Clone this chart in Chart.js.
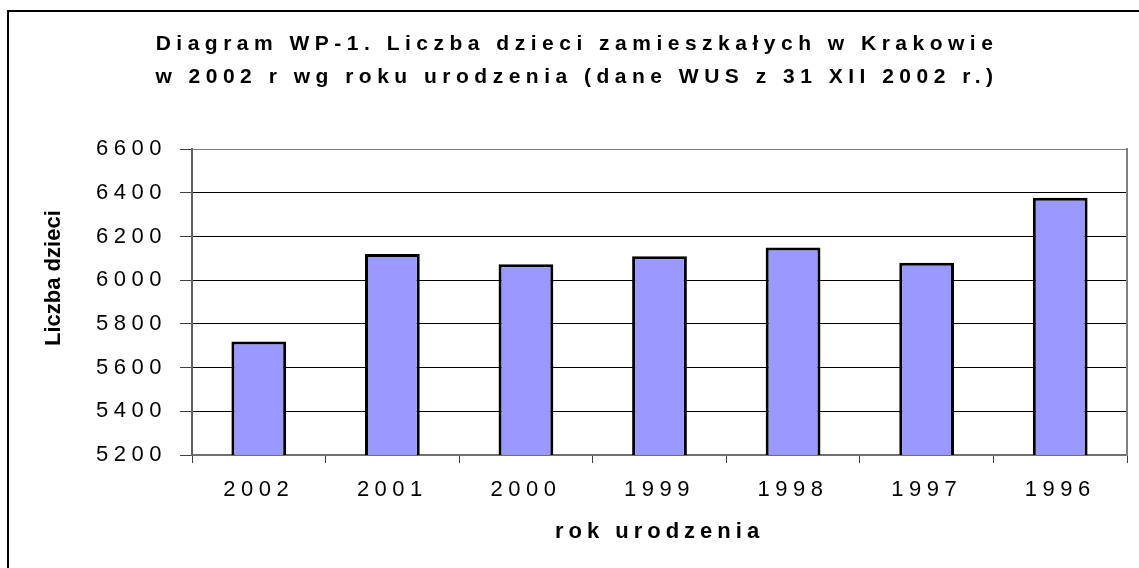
<!DOCTYPE html>
<html>
<head>
<meta charset="utf-8">
<script src="https://cdn.jsdelivr.net/npm/chart.js@4/dist/chart.umd.min.js"></script>
<style>
  body { margin: 0; background: #fff; }
  #wrap { position: relative; width: 1139px; height: 568px; overflow: hidden; }
  #frame { position: absolute; left: 7px; top: 10px; width: 1200px; height: 600px;
           border-left: 2px solid #000; border-top: 2px solid #000; }
  canvas { position: absolute; left: 0; top: 0; }
</style>
</head>
<body>
<div id="wrap">
  <div id="frame"></div>
  <canvas id="myChart" width="1139" height="568"></canvas>
</div>
<script>
// birth years and number of children
const years = ['2002', '2001', '2000', '1999', '1998', '1997', '1996'];
const children = [5720, 6120, 6073, 6110, 6150, 6080, 6378];
const titleLines = [
  'Diagram WP-1. Liczba dzieci zamieszkałych w Krakowie',
  'w 2002 r wg roku urodzenia (dane WUS z 31 XII 2002 r.)'
];
const yTitle = 'Liczba dzieci';
const xTitle = 'rok urodzenia';

Chart.defaults.font.family = '"Liberation Sans", Arial, sans-serif';
Chart.defaults.color = '#000';

// the old excel chart has wide spaced text, canvas letterSpacing gets close
function wrapDraw(obj, name, spacing, dy) {
  if (!obj || obj[name]._wrapped) return;
  const orig = obj[name];
  const fn = function (...args) {
    const ctx = this.ctx;
    ctx.save();
    ctx.letterSpacing = spacing;
    ctx.translate(0, dy);
    orig.apply(this, args);
    ctx.restore();
  };
  fn._wrapped = true;
  obj[name] = fn;
}

const spacingPlugin = {
  id: 'spacing',
  afterLayout(chart) {
    wrapDraw(chart.titleBlock, 'draw', '5.5px', 0);
    wrapDraw(chart.scales.x, 'drawLabels', '5.5px', 0);
    wrapDraw(chart.scales.y, 'drawLabels', '5.5px', 0);
    wrapDraw(chart.scales.x, 'drawTitle', '5px', 0);
    wrapDraw(chart.scales.y, 'drawTitle', '0px', -24);
  }
};

const ctx = document.getElementById('myChart').getContext('2d');
const myChart = new Chart(ctx, {
  type: 'bar',
  data: {
    labels: years,
    datasets: [{
      label: yTitle,
      data: children,
      backgroundColor: '#9999ff',
      borderColor: '#000',
      borderWidth: 3,
      borderSkipped: false,
      barPercentage: 0.41,
      categoryPercentage: 1
    }]
  },
  plugins: [spacingPlugin],
  options: {
    responsive: false,
    animation: false,
    layout: { padding: { left: 27, right: 12, top: 0, bottom: 0 } },
    plugins: {
      legend: { display: false },
      tooltip: { enabled: false },
      title: {
        display: true,
        text: titleLines,
        color: '#000',
        font: { size: 21, weight: 'bold', lineHeight: 1.6 },
        padding: { top: 27, bottom: 55 }
      }
    },
    scales: {
      x: {
        afterFit: (scale) => { scale.height = 113; },
        grid: {
          offset: true,
          drawOnChartArea: false,
          tickLength: 8,
          tickColor: '#404040'
        },
        border: { color: '#707070', width: 2 },
        ticks: { font: { size: 22 }, padding: 14 },
        title: {
          display: true,
          text: xTitle,
          font: { size: 22, weight: 'bold' },
          padding: { top: 0, bottom: 23 }
        }
      },
      y: {
        min: 5200,
        max: 6600,
        afterFit: (scale) => { scale.width = 165; },
        grid: {
          color: (c) => c.tick && c.tick.value === 6600 ? '#808080' : '#000',
          lineWidth: 1,
          tickLength: 12,
          tickColor: '#404040'
        },
        border: { color: '#606060', width: 2 },
        ticks: {
          stepSize: 200,
          font: { size: 22 },
          padding: 13,
          callback: (v) => String(v)
        },
        title: {
          display: true,
          text: yTitle,
          font: { size: 22, weight: 'bold' },
          padding: { top: 14, bottom: 0 }
        }
      },
      yRight: {
        position: 'right',
        min: 5200,
        max: 6600,
        afterFit: (scale) => { scale.width = 0; },
        grid: { drawOnChartArea: false, drawTicks: false },
        border: { color: '#808080', width: 2 },
        ticks: { display: false }
      }
    }
  }
});
</script>
</body>
</html>
